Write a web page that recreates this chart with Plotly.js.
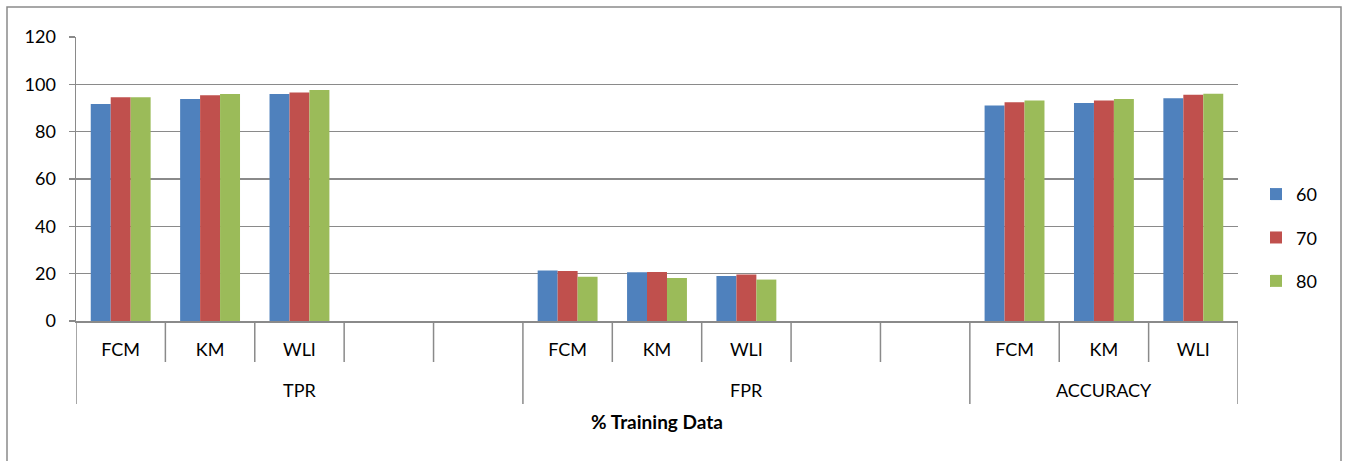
<!DOCTYPE html>
<html>
<head>
<meta charset="utf-8">
<script src="https://cdn.plot.ly/plotly-3.0.1.min.js"></script>
<style>html,body{margin:0;padding:0;background:#fff;}#chart{width:1347px;height:461px;}</style>
</head>
<body>
<div id="chart"></div>
<script>
// ---- data ----
const groups = ['TPR', 'FPR', 'ACCURACY'];
const methods = ['FCM', 'KM', 'WLI'];
const blankSlots = [2, 2, 0];           // empty category slots after each group
const seriesNames = ['60', '70', '80'];
const colors = ['#4F81BD', '#C0504D', '#9BBB59'];
// values[series][group][method]
const s60 = [[91.7, 93.8, 95.9], [21.3, 20.6, 19.0], [91.1, 92.1, 94.1]];
const s70 = [[94.5, 95.4, 96.6], [21.1, 20.7, 19.6], [92.4, 93.2, 95.6]];
const s80 = [[94.5, 95.9, 97.6], [18.7, 18.2, 17.5], [93.2, 93.8, 96.0]];
const yTicks = [0, 20, 40, 60, 80, 100, 120];
const xTitle = '% Training Data';

// ---- build category slots ----
const slotIds = [], slotText = [], groupStart = [], groupEnd = [];
groups.forEach((g, gi) => {
  groupStart.push(slotIds.length);
  methods.forEach(m => { slotIds.push(g + '|' + m); slotText.push(m); });
  for (let b = 0; b < blankSlots[gi]; b++) { slotIds.push(g + '|blank' + b); slotText.push(''); }
  groupEnd.push(slotIds.length);
});
function seriesY(vals) {
  return slotIds.map(id => {
    const [g, m] = id.split('|');
    const gi = groups.indexOf(g), mi = methods.indexOf(m);
    return mi >= 0 ? vals[gi][mi] : null;
  });
}
const allVals = [s60, s70, s80];
const traces = allVals.map((v, i) => ({
  type: 'bar', name: seriesNames[i], x: slotIds, y: seriesY(v),
  marker: {color: colors[i], line: {width: 0}}, legendgroup: 'g' + i
}));

// ---- boundary ticks / dividers ----
const plotH = 284;
const shortY = -41 / plotH, longY = -83 / plotH;
const shapes = [];
const groupBounds = new Set();
groupStart.forEach(s => groupBounds.add(s));
groupEnd.forEach(e => groupBounds.add(e));
for (let b = 0; b <= slotIds.length; b++) {
  const isGroup = groupBounds.has(b);
  shapes.push({type: 'line', xref: 'x', yref: 'paper', x0: b - 0.5, x1: b - 0.5,
    y0: 0, y1: isGroup ? longY : shortY, line: {color: '#8a8a8a', width: 1.5}});
}
// outer chart border
shapes.push({type: 'rect', xref: 'paper', yref: 'paper',
  x0: -69 / 1162, x1: 1265 / 1162, y0: -0.6, y1: 314 / plotH,
  line: {color: '#8a8a8a', width: 1.5}, fillcolor: 'rgba(0,0,0,0)'});

const annotations = groups.map((g, gi) => ({
  text: g, xref: 'x', yref: 'paper', x: (groupStart[gi] + groupEnd[gi] - 1) / 2,
  y: -69 / plotH, xanchor: 'center', yanchor: 'middle', showarrow: false,
  font: {family: 'Lato, sans-serif', size: 18, color: '#000'}
}));

const layout = {
  width: 1347, height: 461,
  margin: {l: 76, r: 109, t: 37, b: 140},
  paper_bgcolor: '#fff', plot_bgcolor: '#fff',
  font: {family: 'Lato, sans-serif', size: 18, color: '#000'},
  barmode: 'group', bargap: 0.33, bargroupgap: 0,
  xaxis: {
    type: 'category', categoryorder: 'array', categoryarray: slotIds,
    range: [-0.5, slotIds.length - 0.5],
    tickvals: slotIds, ticktext: slotText, ticks: '',
    ticklabelstandoff: 12,
    showline: true, linecolor: '#8a8a8a', linewidth: 1.5,
    showgrid: false, zeroline: false, fixedrange: true,
    title: {text: '<b>' + xTitle + '</b>', standoff: 56,
      font: {family: 'Lato, sans-serif', size: 19, color: '#000'}}
  },
  yaxis: {
    range: [0, 120], tickvals: yTicks, ticks: 'outside', ticklen: 6,
    tickcolor: '#8a8a8a', tickwidth: 1.5, ticklabelstandoff: 9,
    showline: true, linecolor: '#8a8a8a', linewidth: 1.5,
    showgrid: true, gridcolor: '#8a8a8a', gridwidth: 1.5, zeroline: false
  },
  legend: {x: 1.0155, xanchor: 'left', y: 0.511, yanchor: 'top',
    font: {family: 'Lato, sans-serif', size: 18, color: '#000'},
    tracegroupgap: 17, itemwidth: 30, bgcolor: 'rgba(0,0,0,0)'},
  shapes: shapes, annotations: annotations, showlegend: true
};
Plotly.newPlot('chart', traces, layout, {displayModeBar: false, staticPlot: true});
</script>
</body>
</html>
